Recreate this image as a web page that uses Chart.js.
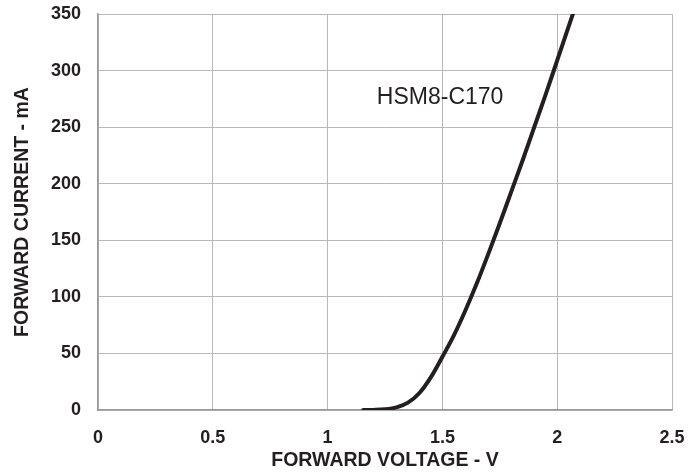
<!DOCTYPE html>
<html>
<head>
<meta charset="utf-8">
<script src="https://cdn.jsdelivr.net/npm/chart.js@4.4.1/dist/chart.umd.min.js"></script>
<style>
  body { margin: 0; background: #fff; }
  canvas { display: block; }
</style>
</head>
<body>
<canvas id="ivChart" width="688" height="472"></canvas>
<script>
// forward voltage (V) vs forward current (mA)
const voltage = [1.155, 1.2, 1.25, 1.3, 1.35, 1.4, 1.45, 1.5, 1.55, 1.6, 1.65, 1.7, 1.75, 1.8, 1.85, 1.9, 1.95, 2.0, 2.05, 2.07];
const current = [0, 0.1, 0.6, 2.3, 6.5, 15, 29, 47, 66, 88, 112, 138, 165, 193, 221, 250, 279, 309, 339, 351];

const xTicks = [0, 0.5, 1, 1.5, 2, 2.5];
const yTicks = [0, 50, 100, 150, 200, 250, 300, 350];

const seriesName = 'HSM8-C170';
const xTitle = 'FORWARD VOLTAGE - V';
const yTitle = 'FORWARD CURRENT - mA';

const points = voltage.map((v, i) => ({ x: v, y: current[i] }));

// axis titles + curve label, placed by hand
const labelsPlugin = {
    id: 'labels',
    afterDraw(chart) {
        const c = chart.ctx;
        const area = chart.chartArea;
        c.save();
        c.fillStyle = '#231f20';
        c.textAlign = 'center';
        c.textBaseline = 'middle';

        c.font = 'bold 19.5px "Liberation Sans", Arial, sans-serif';
        c.fillText(xTitle, (area.left + area.right) / 2, 461);

        c.translate(23, (area.top + area.bottom) / 2);
        c.rotate(-Math.PI / 2);
        c.fillText(yTitle, 0, 0);
        c.restore();

        c.save();
        c.fillStyle = '#231f20';
        c.font = '23px "Liberation Sans", Arial, sans-serif';
        c.textAlign = 'center';
        c.textBaseline = 'middle';
        const sx = chart.scales.x, sy = chart.scales.y;
        c.fillText(seriesName, sx.getPixelForValue(1.49), sy.getPixelForValue(276));
        c.restore();
    }
};

// keep the plot box where the reference has it, no extra room for edge labels
function noOverhang(s) {
    s.paddingTop = 0;
    s.paddingBottom = 0;
    s.paddingLeft = 0;
    s.paddingRight = 0;
}

const ctx = document.getElementById('ivChart');

new Chart(ctx, {
    type: 'scatter',
    data: {
        datasets: [{
            label: seriesName,
            data: points,
            showLine: true,
            borderColor: '#231f20',
            borderWidth: 4,
            pointRadius: 0,
            cubicInterpolationMode: 'monotone',
            borderCapStyle: 'round'
        }]
    },
    options: {
        responsive: false,
        animation: false,
        layout: { padding: { left: 0, right: 16, top: 14, bottom: 0 } },
        plugins: {
            legend: { display: false },
            tooltip: { enabled: false }
        },
        scales: {
            x: {
                type: 'linear',
                min: 0,
                max: 2.5,
                afterFit(s) { s.height = 62; noOverhang(s); },
                afterBuildTicks(s) { s.ticks = xTicks.map(v => ({ value: v })); },
                grid: { color: '#b8b8b8', lineWidth: 1, drawTicks: false },
                border: { color: '#999999', width: 1.5 },
                ticks: {
                    padding: 17,
                    color: '#231f20',
                    font: { family: '"Liberation Sans", Arial, sans-serif', size: 18, weight: 'bold' },
                    callback: v => String(v)
                }
            },
            y: {
                min: 0,
                max: 350,
                afterFit(s) { s.width = 98; noOverhang(s); },
                afterBuildTicks(s) { s.ticks = yTicks.map(v => ({ value: v })); },
                grid: { color: '#b8b8b8', lineWidth: 1, drawTicks: false },
                border: { color: '#999999', width: 1.5 },
                ticks: {
                    padding: 17,
                    color: '#231f20',
                    font: { family: '"Liberation Sans", Arial, sans-serif', size: 18, weight: 'bold' }
                }
            }
        }
    },
    plugins: [labelsPlugin]
});
</script>
</body>
</html>
